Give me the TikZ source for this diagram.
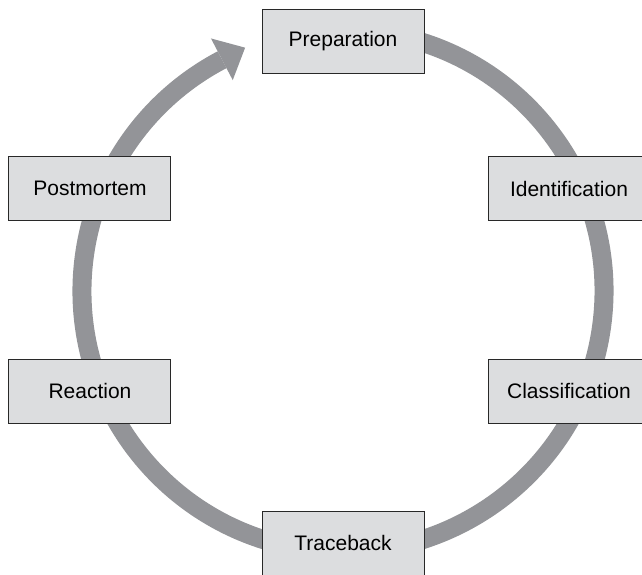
\documentclass[tikz,border=0pt]{standalone}
\usepackage{fontspec}
\setmainfont{Liberation Sans}
\usetikzlibrary{calc}
\definecolor{ringgray}{RGB}{147,148,152}
\definecolor{boxfill}{RGB}{220,221,223}
\definecolor{boxline}{RGB}{40,40,40}
\begin{document}
\begin{tikzpicture}[x=1pt,y=1pt,
  stagebox/.style={draw=boxline,line width=1pt,fill=boxfill,minimum width=162pt,minimum height=64pt,inner sep=0pt,font=\fontsize{21pt}{25pt}\selectfont,text=black},
  ring/.style={draw=ringgray,line width=19pt}]
\clip (-343,-283) rectangle (299,291);
\fill[white] (-343,-283) rectangle (299,291);
% ring
\draw[ring] (80:261pt) arc[start angle=80,end angle=-242.4,radius=261pt];
\fill[ringgray] (117.6:238pt) -- (117.6:285pt) -- ($(117.6:261pt)+(27.6:26pt)$) -- cycle;
% stages
\node[stagebox] (prep) at (0,250) {Preparation};
\node[stagebox] (ident) at (226,102.5) {Identification};
\node[stagebox] (class) at (226,-100) {Classification};
\node[stagebox] (trace) at (0,-252) {Traceback};
\node[stagebox] (react) at (-253,-100) {Reaction};
\node[stagebox] (post) at (-253,102.5) {Postmortem};
\end{tikzpicture}
\end{document}
